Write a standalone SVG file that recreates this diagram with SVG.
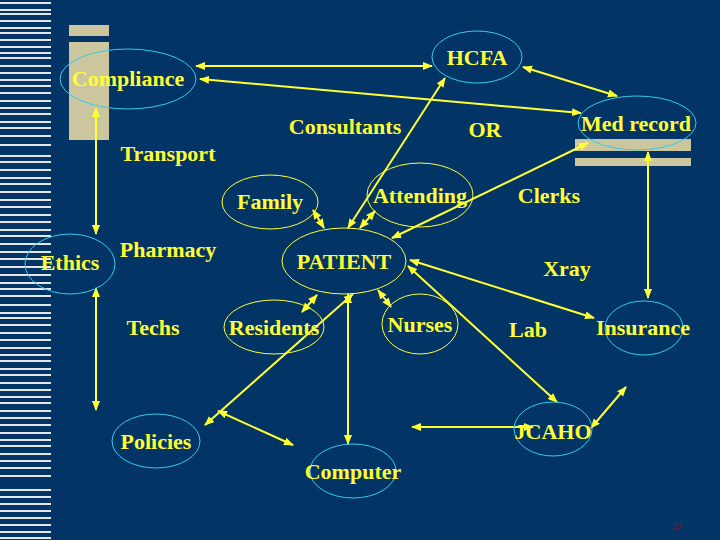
<svg xmlns="http://www.w3.org/2000/svg" width="720" height="540" viewBox="0 0 720 540">
<defs>
<marker id="a" viewBox="0 0 10 10" refX="9" refY="5" markerWidth="5" markerHeight="5" orient="auto-start-reverse"><path d="M0,1 L10,5 L0,9 z" fill="#ffff33"/></marker>
<style>
text{font-family:"Liberation Serif","Times New Roman",serif;font-weight:bold;font-size:22px;fill:#ffff33;text-anchor:middle}
.c{fill:none;stroke:#33ccee;stroke-width:1}
.y{fill:none;stroke:#ffff33;stroke-width:1}
#conn line{stroke:#ffff33;stroke-width:2;marker-start:url(#a);marker-end:url(#a)}
.t{fill:#cbc69e}
.s{stroke:#e6e6e6;stroke-width:2}
</style>
</defs>
<rect width="720" height="540" fill="#033466"/>
<g id="stripes">
<line class="s" x1="0" y1="3" x2="51" y2="3"/><line class="s" x1="0" y1="10" x2="51" y2="10"/><line class="s" x1="0" y1="14" x2="51" y2="14"/><line class="s" x1="0" y1="21" x2="51" y2="21"/><line class="s" x1="0" y1="28" x2="51" y2="28"/><line class="s" x1="0" y1="33" x2="51" y2="33"/><line class="s" x1="0" y1="40" x2="51" y2="40"/><line class="s" x1="0" y1="47" x2="51" y2="47"/><line class="s" x1="0" y1="53" x2="51" y2="53"/><line class="s" x1="0" y1="58" x2="51" y2="58"/><line class="s" x1="0" y1="66" x2="51" y2="66"/><line class="s" x1="0" y1="73" x2="51" y2="73"/><line class="s" x1="0" y1="80" x2="51" y2="80"/><line class="s" x1="0" y1="86" x2="51" y2="86"/><line class="s" x1="0" y1="93" x2="51" y2="93"/><line class="s" x1="0" y1="101" x2="51" y2="101"/><line class="s" x1="0" y1="108" x2="51" y2="108"/><line class="s" x1="0" y1="114" x2="51" y2="114"/><line class="s" x1="0" y1="122" x2="51" y2="122"/><line class="s" x1="0" y1="128" x2="51" y2="128"/><line class="s" x1="0" y1="136" x2="51" y2="136"/><line class="s" x1="0" y1="145" x2="51" y2="145"/><line class="s" x1="0" y1="156" x2="51" y2="156"/><line class="s" x1="0" y1="162" x2="51" y2="162"/><line class="s" x1="0" y1="170" x2="51" y2="170"/><line class="s" x1="0" y1="178" x2="51" y2="178"/><line class="s" x1="0" y1="184" x2="51" y2="184"/><line class="s" x1="0" y1="192" x2="51" y2="192"/><line class="s" x1="0" y1="200" x2="51" y2="200"/><line class="s" x1="0" y1="207" x2="51" y2="207"/><line class="s" x1="0" y1="215" x2="51" y2="215"/><line class="s" x1="0" y1="222" x2="51" y2="222"/><line class="s" x1="0" y1="230" x2="51" y2="230"/><line class="s" x1="0" y1="236" x2="51" y2="236"/><line class="s" x1="0" y1="244" x2="51" y2="244"/><line class="s" x1="0" y1="252" x2="51" y2="252"/><line class="s" x1="0" y1="259" x2="51" y2="259"/><line class="s" x1="0" y1="267" x2="51" y2="267"/><line class="s" x1="0" y1="275" x2="51" y2="275"/><line class="s" x1="0" y1="283" x2="51" y2="283"/><line class="s" x1="0" y1="289" x2="51" y2="289"/><line class="s" x1="0" y1="296" x2="51" y2="296"/><line class="s" x1="0" y1="305" x2="51" y2="305"/><line class="s" x1="0" y1="313" x2="51" y2="313"/><line class="s" x1="0" y1="318" x2="51" y2="318"/><line class="s" x1="0" y1="325" x2="51" y2="325"/><line class="s" x1="0" y1="333" x2="51" y2="333"/><line class="s" x1="0" y1="340" x2="51" y2="340"/><line class="s" x1="0" y1="348" x2="51" y2="348"/><line class="s" x1="0" y1="355" x2="51" y2="355"/><line class="s" x1="0" y1="361" x2="51" y2="361"/><line class="s" x1="0" y1="369" x2="51" y2="369"/><line class="s" x1="0" y1="375" x2="51" y2="375"/><line class="s" x1="0" y1="383" x2="51" y2="383"/><line class="s" x1="0" y1="390" x2="51" y2="390"/><line class="s" x1="0" y1="397" x2="51" y2="397"/><line class="s" x1="0" y1="403" x2="51" y2="403"/><line class="s" x1="0" y1="411" x2="51" y2="411"/><line class="s" x1="0" y1="418" x2="51" y2="418"/><line class="s" x1="0" y1="425" x2="51" y2="425"/><line class="s" x1="0" y1="433" x2="51" y2="433"/><line class="s" x1="0" y1="440" x2="51" y2="440"/><line class="s" x1="0" y1="446" x2="51" y2="446"/><line class="s" x1="0" y1="454" x2="51" y2="454"/><line class="s" x1="0" y1="461" x2="51" y2="461"/><line class="s" x1="0" y1="468" x2="51" y2="468"/><line class="s" x1="0" y1="476" x2="51" y2="476"/><line class="s" x1="0" y1="490" x2="51" y2="490"/><line class="s" x1="0" y1="497" x2="51" y2="497"/><line class="s" x1="0" y1="504" x2="51" y2="504"/><line class="s" x1="0" y1="511" x2="51" y2="511"/><line class="s" x1="0" y1="518" x2="51" y2="518"/><line class="s" x1="0" y1="525" x2="51" y2="525"/><line class="s" x1="0" y1="532" x2="51" y2="532"/><line class="s" x1="0" y1="538" x2="51" y2="538"/>
</g>
<rect class="t" x="69" y="25" width="40" height="11"/>
<rect class="t" x="69" y="42" width="40" height="98"/>
<rect class="t" x="575" y="139" width="116" height="12"/>
<rect class="t" x="575" y="158" width="116" height="8"/>
<g id="conn">
<line x1="196" y1="66" x2="432" y2="66"/>
<line x1="200" y1="79" x2="581" y2="113"/>
<line x1="523" y1="67" x2="617" y2="96"/>
<line x1="348" y1="228" x2="445" y2="78"/>
<line x1="96" y1="108" x2="96" y2="234"/>
<line x1="313" y1="210" x2="324" y2="228"/>
<line x1="375" y1="211" x2="360" y2="228"/>
<line x1="588" y1="143" x2="392" y2="238"/>
<line x1="648" y1="152" x2="648" y2="298"/>
<line x1="410" y1="260" x2="594" y2="318"/>
<line x1="408" y1="266" x2="557" y2="402"/>
<line x1="317" y1="295" x2="302" y2="312"/>
<line x1="378" y1="290" x2="391" y2="307"/>
<line x1="353" y1="294" x2="205" y2="425"/>
<line x1="348" y1="294" x2="348" y2="444"/>
<line x1="96" y1="288" x2="96" y2="410"/>
<line x1="218" y1="411" x2="293" y2="445"/>
<line x1="412" y1="427" x2="533" y2="427"/>
<line x1="626" y1="387" x2="591" y2="428"/>
</g>
<g id="compliance"><ellipse class="c" cx="128" cy="79" rx="68" ry="30"/><text x="128" y="86">Compliance</text></g>
<g id="hcfa"><ellipse class="c" cx="477" cy="57" rx="45" ry="26"/><text x="477" y="65">HCFA</text></g>
<g id="medrecord"><ellipse class="c" cx="637" cy="123" rx="59" ry="27"/><text x="636" y="131">Med record</text></g>
<g id="consultants"><text x="345" y="134">Consultants</text></g>
<g id="or"><text x="485" y="137">OR</text></g>
<g id="transport"><text x="168" y="161">Transport</text></g>
<g id="family"><ellipse class="y" cx="270" cy="202" rx="48" ry="27"/><text x="270" y="209">Family</text></g>
<g id="attending"><ellipse class="y" cx="420" cy="195" rx="53" ry="32"/><text x="420" y="203">Attending</text></g>
<g id="clerks"><text x="549" y="203">Clerks</text></g>
<g id="ethics"><ellipse class="c" cx="70" cy="264" rx="45" ry="30"/><text x="70" y="270">Ethics</text></g>
<g id="pharmacy"><text x="168" y="257">Pharmacy</text></g>
<g id="patient"><ellipse class="y" cx="344" cy="261" rx="62" ry="33"/><text x="344" y="269">PATIENT</text></g>
<g id="xray"><text x="567" y="276">Xray</text></g>
<g id="techs"><text x="153" y="335">Techs</text></g>
<g id="residents"><ellipse class="y" cx="274" cy="327" rx="50" ry="27"/><text x="274" y="335">Residents</text></g>
<g id="nurses"><ellipse class="y" cx="420" cy="324" rx="38" ry="30"/><text x="420" y="332">Nurses</text></g>
<g id="lab"><text x="528" y="337">Lab</text></g>
<g id="insurance"><ellipse class="c" cx="644" cy="328" rx="39" ry="27"/><text x="643" y="335">Insurance</text></g>
<g id="jcaho"><ellipse class="c" cx="553" cy="429" rx="39" ry="27"/><text x="553" y="439">JCAHO</text></g>
<g id="policies"><ellipse class="c" cx="156" cy="441" rx="44" ry="27"/><text x="156" y="449">Policies</text></g>
<g id="computer"><ellipse class="c" cx="353" cy="471" rx="43" ry="27"/><text x="353" y="479">Computer</text></g>
<text x="677" y="529" style="font-size:9px;fill:#7a1a2a;font-weight:normal">29</text>
</svg>
